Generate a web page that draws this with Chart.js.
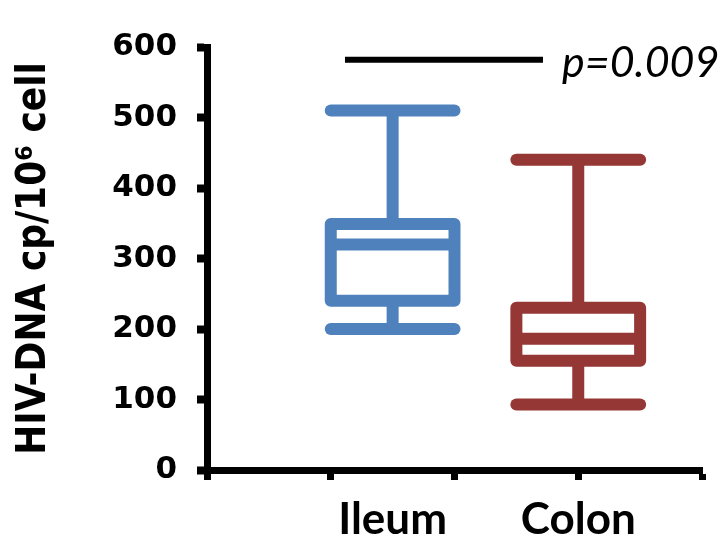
<!DOCTYPE html>
<html>
<head>
<meta charset="utf-8">
<script src="https://cdn.jsdelivr.net/npm/chart.js@4.4.1/dist/chart.umd.min.js"></script>
<style>
  html, body { margin: 0; padding: 0; background: #fff; }
  #wrap { width: 723px; height: 539px; }
</style>
</head>
<body>
<div id="wrap"><canvas id="c" width="723" height="539"></canvas></div>
<script>
// Box-plot summary per tissue (HIV-DNA copies per 10^6 cells)
const categories  = ['Ileum', 'Colon'];
const whiskerLow  = [200, 93];
const quartile1   = [240, 155];
const medians     = [320, 186];
const quartile3   = [349, 230];
const whiskerHigh = [510, 440];
const yTicks      = [0, 100, 200, 300, 400, 500, 600];

// Significance bracket between the groups
const pValueLabel  = 'p=0.009';
const bracketFrom  = 1.115;
const bracketTo    = 2.715;
const bracketLevel = 582;

// Layout / style constants
const slots = [1.5, 3];                 // x position of each group
const xTickValues = [0, 1, 1.5, 2, 3, 4];
const colors = ['#4F81BD', '#953735'];
const half = 0.5;                       // half box width in x units
const lineW = 12;

function segment(points, color, width, cap) {
  return {
    type: 'scatter',
    data: points.map(([x, y]) => ({ x, y })),
    showLine: true,
    borderColor: color,
    backgroundColor: color,
    borderWidth: width,
    borderCapStyle: cap || 'butt',
    borderJoinStyle: 'round',
    pointRadius: 0,
    pointHoverRadius: 0,
    pointHitRadius: 0,
    fill: false,
    tension: 0,
    clip: false
  };
}

const datasets = [];
categories.forEach((name, i) => {
  const c = slots[i], col = colors[i];
  const lo = whiskerLow[i], q1 = quartile1[i], md = medians[i], q3 = quartile3[i], hi = whiskerHigh[i];
  // box outline
  datasets.push(segment([[c, q1], [c - half, q1], [c - half, q3], [c + half, q3], [c + half, q1], [c, q1]], col, lineW));
  // median
  datasets.push(segment([[c - half, md], [c + half, md]], col, lineW));
  // whiskers
  datasets.push(segment([[c, q3], [c, hi]], col, lineW));
  datasets.push(segment([[c - half, hi], [c + half, hi]], col, lineW, 'round'));
  datasets.push(segment([[c, lo], [c, q1]], col, lineW));
  datasets.push(segment([[c - half, lo], [c + half, lo]], col, lineW, 'round'));
});
datasets.push(segment([[bracketFrom, bracketLevel], [bracketTo, bracketLevel]], '#000', 6));

const pValuePlugin = {
  id: 'pValueText',
  afterDatasetsDraw(chart) {
    const { ctx, scales: { x, y } } = chart;
    ctx.save();
    ctx.font = 'italic 43px Lato';
    ctx.fillStyle = '#000';
    ctx.textBaseline = 'alphabetic';
    ctx.textAlign = 'left';
    ctx.fillText(pValueLabel, x.getPixelForValue(bracketTo) + 19, y.getPixelForValue(bracketLevel) + 17);
    ctx.restore();
  }
};

new Chart(document.getElementById('c'), {
  type: 'scatter',
  data: { datasets },
  options: {
    responsive: false,
    animation: false,
    events: [],
    layout: { padding: { left: 0, right: 21, top: 47, bottom: 0 } },
    plugins: { legend: { display: false }, tooltip: { enabled: false } },
    scales: {
      x: {
        type: 'linear',
        min: 0,
        max: 4,
        afterBuildTicks: s => { s.ticks = xTickValues.map(v => ({ value: v })); },
        afterFit: s => { s.height = 69; },
        ticks: {
          autoSkip: false,
          maxRotation: 0,
          padding: 13,
          color: '#000',
          font: { family: 'Lato', size: 44, weight: 'bold' },
          callback: v => { const k = slots.indexOf(v); return k >= 0 ? categories[k] : ''; }
        },
        grid: {
          drawOnChartArea: false,
          drawTicks: true,
          tickLength: 10,
          tickWidth: 7,
          tickColor: ctx => (ctx.tick && ctx.tick.value % 1 !== 0) ? 'rgba(0,0,0,0)' : '#000'
        },
        border: { display: true, color: '#000', width: 7 }
      },
      y: {
        min: 0,
        max: 600,
        afterBuildTicks: s => { s.ticks = yTicks.map(v => ({ value: v })); },
        afterFit: s => { s.width = 207; },
        ticks: {
          padding: 20,
          color: '#000',
          font: { family: 'DejaVu Sans', size: 31, weight: 'bold' }
        },
        grid: {
          drawOnChartArea: false,
          drawTicks: true,
          tickLength: 10,
          tickWidth: 8,
          tickColor: '#000'
        },
        border: { display: true, color: '#000', width: 7 },
        title: {
          display: true,
          text: 'HIV-DNA cp/10\u2076 cell',
          color: '#000',
          font: { family: '"DejaVu Sans Condensed", "DejaVu Sans"', size: 40, weight: 'bold' },
          padding: { top: 11, bottom: 0 }
        }
      }
    }
  },
  plugins: [pValuePlugin]
});
</script>
</body>
</html>
